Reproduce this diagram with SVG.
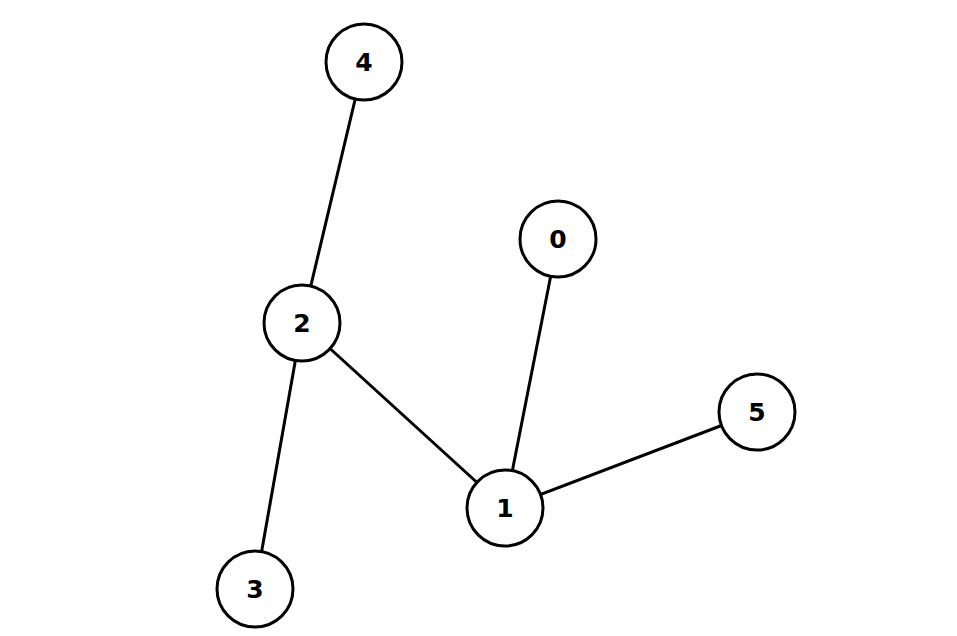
<svg xmlns="http://www.w3.org/2000/svg" width="957" height="636" viewBox="0 0 957 636">
<style>
.e{stroke:#000;stroke-width:3;fill:none}
.n circle{fill:#fff;stroke:#000;stroke-width:3}
.n text{font-family:"DejaVu Sans",sans-serif;font-weight:bold;font-size:25px;text-anchor:middle;dominant-baseline:central;fill:#000}
</style>
<rect width="957" height="636" fill="#fff"/>
<g id="edges">
<line class="e" x1="364" y1="62" x2="302" y2="323"/>
<line class="e" x1="302" y1="323" x2="255" y2="589"/>
<line class="e" x1="302" y1="323" x2="505" y2="508"/>
<line class="e" x1="558" y1="239" x2="505" y2="508"/>
<line class="e" x1="505" y1="508" x2="757" y2="412"/>
</g>
<g id="n4" class="n"><circle cx="364" cy="62" r="38"/><text x="364" y="62">4</text></g>
<g id="n0" class="n"><circle cx="558" cy="239" r="38"/><text x="558" y="239">0</text></g>
<g id="n2" class="n"><circle cx="302" cy="323" r="38"/><text x="302" y="323">2</text></g>
<g id="n5" class="n"><circle cx="757" cy="412" r="38"/><text x="757" y="412">5</text></g>
<g id="n1" class="n"><circle cx="505" cy="508" r="38"/><text x="505" y="508">1</text></g>
<g id="n3" class="n"><circle cx="255" cy="589" r="38"/><text x="255" y="589">3</text></g>
</svg>
